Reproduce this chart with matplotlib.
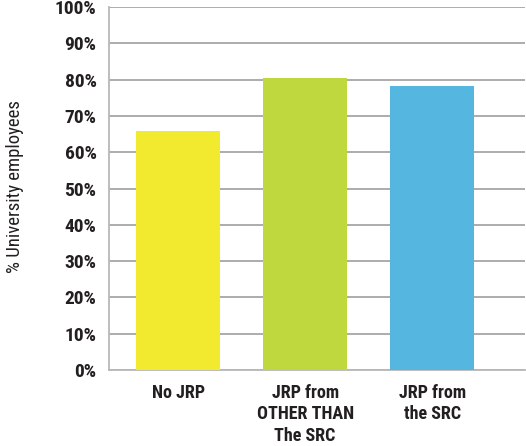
import matplotlib
matplotlib.use('Agg')
import matplotlib.pyplot as plt

categories = ['No JRP', 'JRP from\nOTHER THAN\nThe SRC', 'JRP from\nthe SRC']
values = [65.8, 80.4, 78.2]
colors = ['#F2EA2E', '#BFD83D', '#55B6E0']
yticks = list(range(0, 101, 10))

plt.rcParams['font.family'] = ['Roboto Condensed', 'Liberation Sans Narrow', 'Roboto', 'DejaVu Sans']

fig = plt.figure(figsize=(5.26, 4.46), dpi=100)
ax = fig.add_axes([109 / 526, 1 - 370 / 446, 416 / 526, 363 / 446])

x = range(len(categories))
ax.bar(x, values, width=0.66, color=colors, zorder=3)

ax.set_xlim(-0.543, 2.73)
ax.set_ylim(0, 100)
ax.set_yticks(yticks)
ax.set_yticklabels([f'{t}%' for t in yticks], fontsize=14, fontweight='semibold', color='#231f20')
ax.set_xticks(list(x))
ax.set_xticklabels(categories, fontsize=13, fontweight='semibold', color='#231f20', linespacing=1.25)
ax.tick_params(axis='y', length=0, pad=9)
ax.tick_params(axis='x', length=0, pad=10)

ax.grid(axis='y', color='#a6a6a6', linewidth=1.3, zorder=0)
for side in ['top', 'right']:
    ax.spines[side].set_visible(False)
for side in ['left', 'bottom']:
    ax.spines[side].set_color('#b8b8b8')
    ax.spines[side].set_linewidth(1.3)

ax.set_ylabel('% University employees', fontsize=13.5, color='#231f20')
ax.yaxis.set_label_coords(-0.205, 0.505)

fig.savefig('out.png', dpi=100)
